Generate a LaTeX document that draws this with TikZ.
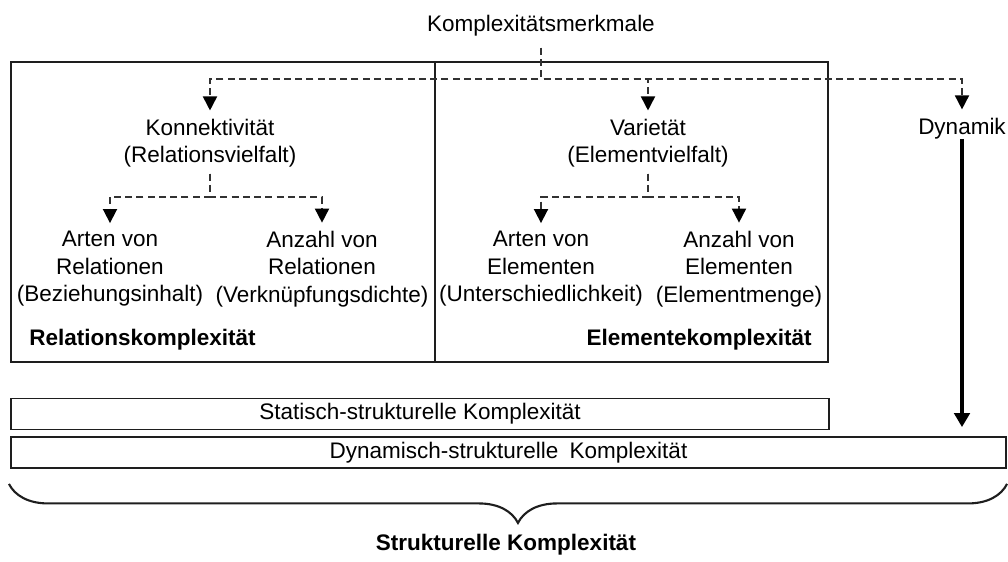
\documentclass[tikz,border=0pt]{standalone}
\usepackage{fontspec}
\setmainfont{Liberation Sans}
\usepackage{tikz}
\usetikzlibrary{arrows.meta,positioning,decorations.pathreplacing}
\definecolor{kgray}{RGB}{50,50,50}
\definecolor{kline}{RGB}{30,30,30}
\newcommand{\ktext}{\fontsize{16}{19.6}\selectfont}
\tikzstyle{lbl} = [align=center, inner sep=0pt, font=\ktext]
\tikzstyle{boldlbl} = [inner sep=0pt, font=\ktext\bfseries]
\tikzstyle{bar} = [draw=kline, line width=1.3pt, minimum height=0.775cm, inner sep=0pt, font=\ktext]
\tikzstyle{frame} = [draw=kline, line width=1.3pt]
\tikzstyle{dashtree} = [kgray, line width=1.2pt, dash pattern=on 5pt off 3pt, -{Triangle[length=10pt,width=10pt,black]}, shorten >=0.2cm]
\tikzstyle{dynarrow} = [line width=3pt, -{Triangle[length=10pt,width=11pt]}, shorten >=0.225cm]
\tikzstyle{curly} = [kline, line width=1.5pt, decorate, decoration={brace, amplitude=0.975cm, aspect=0.49}]

\begin{document}
\begin{tikzpicture}[x=0.025cm, y=-0.025cm]
    \useasboundingbox (0,0) rectangle (1008,561);

    % Containers
    \draw[frame] (11,62) rectangle (435,362);
    \draw[frame] (435,62) rectangle (828,362);

    % Top level
    \node[lbl, anchor=base] (merk) at (541,31) {Komplexitätsmerkmale};
    \node[lbl] (konn) at (210,143) {Konnektivität\\(Relationsvielfalt)};
    \node[lbl] (vari) at (648,143) {Varietät\\(Elementvielfalt)};
    \node[lbl, anchor=base] (dyn) at (962,134) {Dynamik};

    % Second level
    \node[lbl] (artrel) at (110,269) {Arten von\\Relationen\\(Beziehungsinhalt)};
    \node[lbl] (anzrel) at (322,269) {Anzahl von\\Relationen\\(Verknüpfungsdichte)};
    \node[lbl] (artel) at (541,269) {Arten von\\Elementen\\(Unterschiedlichkeit)};
    \node[lbl] (anzel) at (739,269) {Anzahl von\\Elementen\\(Elementmenge)};

    \node[boldlbl, anchor=base west] (relk) at (29,345) {Relationskomplexität};
    \node[boldlbl, anchor=base east] (elk) at (812,345) {Elementekomplexität};

    % Bars
    \node[bar, minimum width=20.45cm] (stat) at (420,414) {Statisch-strukturelle Komplexität};
    \node[bar, minimum width=24.875cm] (dynb) at (508.5,452.5) {Dynamisch-strukturelle\hspace{0.5em}Komplexität};
    \node[boldlbl, anchor=base] (strk) at (506,550) {Strukturelle Komplexität};

    % Dashed trees
    \coordinate (j0) at (541,79);
    \coordinate (j1) at (210,197);
    \coordinate (j2) at (648,197);
    \draw[dashtree, shorten <=0.3cm] (merk.south) -- (j0) -| (konn.north);
    \draw[dashtree, shorten <=0.3cm] (merk.south) -- (j0) -| (vari.north);
    \draw[dashtree, shorten <=0.3cm] (merk.south) -- (j0) -| (dyn.north);
    \draw[dashtree, shorten <=0.15cm] (konn.south) -- (j1) -| (artrel.north);
    \draw[dashtree, shorten <=0.15cm] (konn.south) -- (j1) -| (anzrel.north);
    \draw[dashtree, shorten <=0.15cm] (vari.south) -- (j2) -| (artel.north);
    \draw[dashtree, shorten <=0.15cm] (vari.south) -- (j2) -| (anzel.north);

    % Dynamics arrow
    \draw[dynarrow] (dyn.south) -- (dyn.south |- dynb.north);

    % Brace
    \draw[curly] ([yshift=-0.375cm]dynb.south east) -- ([yshift=-0.375cm, xshift=-0.025cm]dynb.south west);
\end{tikzpicture}
\end{document}
